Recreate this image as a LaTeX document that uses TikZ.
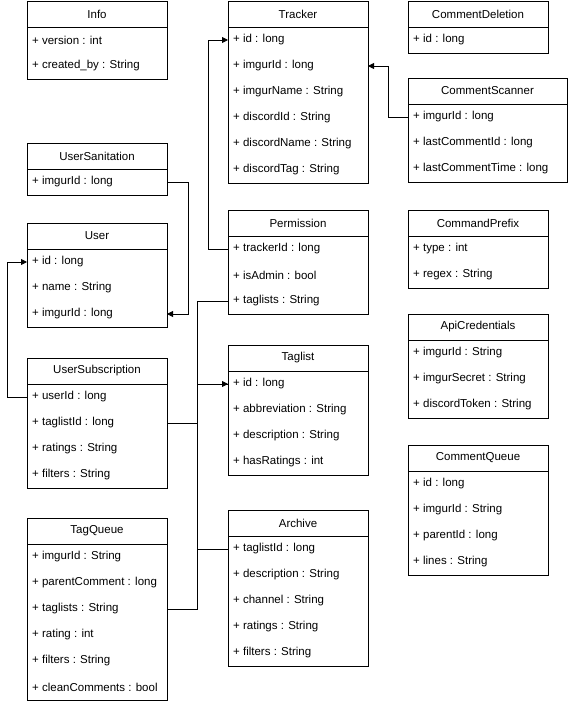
\documentclass[tikz,border=0pt]{standalone}
\usepackage{fontspec}
\setmainfont{Liberation Sans}
\usetikzlibrary{arrows.meta}
\begin{document}
\begin{tikzpicture}[x=1pt,y=-1pt,
  box/.style={draw,line width=0.9pt},
  ttl/.style={font=\fontsize{11.5}{13}\selectfont,inner sep=0pt},
  row/.style={font=\fontsize{11.5}{13}\selectfont,anchor=west,inner sep=0pt},
  con/.style={line width=0.9pt,-{Triangle[length=6pt,width=6pt]}},
  line/.style={line width=0.9pt}]
\useasboundingbox (0,0) rectangle (568,704);
\newcommand{\umlbox}[6]{% name x y w title rows
  \pgfmathsetmacro{\bx}{#2}\pgfmathsetmacro{\by}{#3}\pgfmathsetmacro{\bw}{#4}
  \node[ttl] (#1) at (\bx+\bw/2,\by+13) {#5};
  \foreach \r [count=\i] in {#6} {
    \pgfmathsetmacro{\ry}{\by+26+13+(\i-1)*26}
    \node[row] (#1-\i) at (\bx+5,\ry) {\r};
    \coordinate (#1-\i-w) at (\bx,\ry);
    \coordinate (#1-\i-e) at (\bx+\bw,\ry);
    \xdef\nrows{\i}
  }
  \pgfmathsetmacro{\bh}{26+26*\nrows}
  \draw[box] (\bx,\by) rectangle (\bx+\bw,\by+\bh);
  \draw[box] (\bx,\by+26) -- (\bx+\bw,\by+26);
}
\umlbox{info}{27}{1}{140}{Info}{{+ version : int},{+ created\_by : String}}
\umlbox{usan}{27}{143}{140}{UserSanitation}{{+ imgurId : long}}
\umlbox{user}{27}{223}{140}{User}{{+ id : long},{+ name : String},{+ imgurId : long}}
\umlbox{usub}{27}{358}{140}{UserSubscription}{{+ userId : long},{+ taglistId : long},{+ ratings : String},{+ filters : String}}
\umlbox{tq}{27}{518}{140}{TagQueue}{{+ imgurId : String},{+ parentComment : long},{+ taglists : String},{+ rating : int},{+ filters : String},{+ cleanComments : bool}}
\umlbox{tr}{228}{1}{140}{Tracker}{{+ id : long},{+ imgurId : long},{+ imgurName : String},{+ discordId : String},{+ discordName : String},{+ discordTag : String}}
\umlbox{perm}{228}{210}{140}{Permission}{{+ trackerId : long},{+ isAdmin : bool},{+ taglists : String}}
\umlbox{tl}{228}{345}{140}{Taglist}{{+ id : long},{+ abbreviation : String},{+ description : String},{+ hasRatings : int}}
\umlbox{ar}{228}{510}{140}{Archive}{{+ taglistId : long},{+ description : String},{+ channel : String},{+ ratings : String},{+ filters : String}}
\umlbox{cd}{408}{1}{140}{CommentDeletion}{{+ id : long}}
\umlbox{cs}{408}{78}{159}{CommentScanner}{{+ imgurId : long},{+ lastCommentId : long},{+ lastCommentTime : long}}
\umlbox{cp}{408}{210}{140}{CommandPrefix}{{+ type : int},{+ regex : String}}
\umlbox{api}{408}{314}{140}{ApiCredentials}{{+ imgurId : String},{+ imgurSecret : String},{+ discordToken : String}}
\umlbox{cq}{408}{445}{140}{CommentQueue}{{+ id : long},{+ imgurId : String},{+ parentId : long},{+ lines : String}}
% connectors
\draw[con] (perm-1-w) -- ++(-20,0) |- (tr-1-w);
\draw[con] (cs-1-w) -- ++(-20,0) |- (tr-2-e);
\draw[con] (usan-1-e) -- ++(21,0) |- (user-3-e);
\draw[con] (usub-1-w) -- ++(-20,0) |- (user-1-w);
\draw[con] (usub-2-e) -- ++(30,0) |- (tl-1-w);
\draw[line] (perm-3-w) -- ++(-31,0) |- (tl-1-w);
\draw[line] (tq-3-e) -- ++(30,0) |- (ar-1-w);
\draw[line] (ar-1-w) -- ++(-31,0) |- (usub-2-e);
\end{tikzpicture}
\end{document}
